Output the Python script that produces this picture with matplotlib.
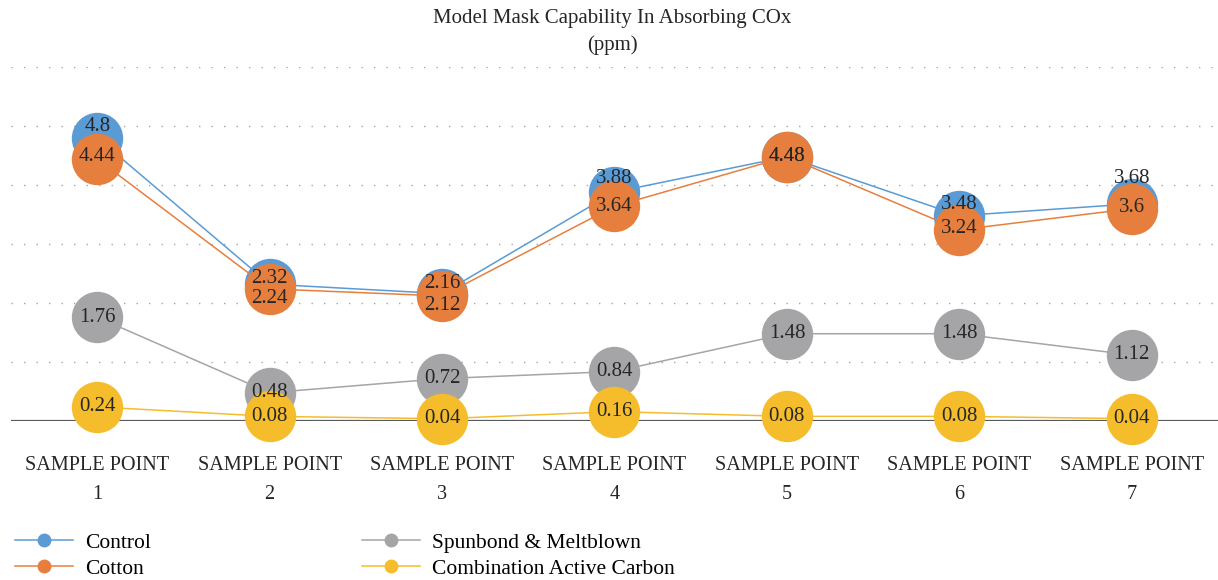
import numpy as np
import matplotlib.pyplot as plt
from matplotlib.lines import Line2D

# values (ppm)
categories = [f"SAMPLE POINT\n{i}" for i in range(1, 8)]
control = [4.8, 2.32, 2.16, 3.88, 4.48, 3.48, 3.68]
cotton = [4.44, 2.24, 2.12, 3.64, 4.48, 3.24, 3.6]
spunbond = [1.76, 0.48, 0.72, 0.84, 1.48, 1.48, 1.12]
carbon = [0.24, 0.08, 0.04, 0.16, 0.08, 0.08, 0.04]

series_names = ["Control", "Cotton", "Spunbond & Meltblown", "Combination Active Carbon"]
colors = ["#5B9BD5", "#E67F3E", "#A5A5A8", "#F5BD2B"]

# small vertical nudges for the labels that overlap (points)
nudge_control = [8, 4, 7, 10, 0, 8, 18]
nudge_cotton = [2, -7, -7, 0, 0, 1, 1]

plt.rcParams.update({
    "font.family": ["Liberation Serif", "DejaVu Serif"],
    "font.size": 14,
})

fig = plt.figure(figsize=(12.18, 5.8), dpi=100)
ax = fig.add_axes([11 / 1218, 0.274, 1 - 11 / 1218, 0.6105])

x = np.arange(len(categories))
all_series = [control, cotton, spunbond, carbon]

for vals, c, name in zip(all_series, colors, series_names):
    ax.plot(x, vals, color=c, linewidth=1.1, marker="o", markersize=37,
            markeredgewidth=0, label=name, clip_on=False, zorder=3)

nudges = [nudge_control, nudge_cotton, [0] * 7, [0] * 7]
for vals, nd in zip(all_series, nudges):
    for xi, v, dy in zip(x, vals, nd):
        ax.annotate(f"{v:g}", (xi, v), xytext=(0, dy), textcoords="offset points",
                    ha="center", va="center", fontsize=15, color="#262626", zorder=5)

ax.set_xlim(-0.5, 6.5)
ax.set_ylim(0, 6)
for gy in range(1, 7):
    ax.axhline(gy, color="#A6A6A6", linewidth=1, linestyle=(0, (1, 8)), zorder=1)
ax.axhline(0, color="#595959", linewidth=1.6, zorder=2)

ax.set_yticks([])
ax.set_xticks(x)
ax.set_xticklabels(categories, linespacing=1.75, color="#262626")
ax.tick_params(axis="x", length=0, pad=25, labelsize=14.6)
for s in ax.spines.values():
    s.set_visible(False)

fig.text(0.503, 0.984, "Model Mask Capability In Absorbing COx\n(ppm)",
         ha="center", va="top", fontsize=15, color="#262626", linespacing=1.5)

handles = [Line2D([], [], color=c, linewidth=1.1, marker="o", markersize=10,
                  markeredgewidth=0) for c in colors]
fig.legend(handles, series_names, loc="lower left", bbox_to_anchor=(0.0, -0.024),
           ncol=2, frameon=False, fontsize=15.5, handlelength=2.7, handletextpad=0.55,
           columnspacing=9.8, labelspacing=0.28, borderaxespad=0.3)

fig.savefig("out.png", dpi=100)
